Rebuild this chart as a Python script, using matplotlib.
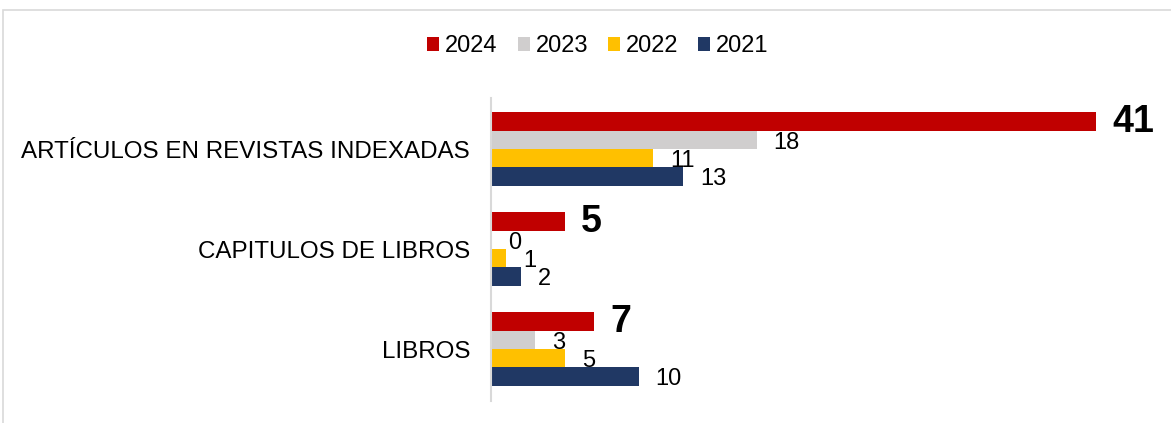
import matplotlib.pyplot as plt
from matplotlib.patches import Rectangle
import numpy as np

plt.rcParams['font.family'] = ['Liberation Sans', 'DejaVu Sans']

categorias = ['LIBROS', 'CAPITULOS DE LIBROS', 'ARTÍCULOS EN REVISTAS INDEXADAS']
anios = ['2024', '2023', '2022', '2021']
v2024 = [7, 5, 41]
v2023 = [3, 0, 18]
v2022 = [5, 1, 11]
v2021 = [10, 2, 13]
colores = ['#C00000', '#D0CECE', '#FFC000', '#203864']

W, H = 1171, 423
fig = plt.figure(figsize=(W / 100, H / 100), dpi=100)
ax = fig.add_axes([491 / W, 1 - 401 / H, 664 / W, 303 / H])

# borde gris del grafico
fig.patches.append(Rectangle((3 / W, -0.2), 1.2, 1.2 - 10 / H,
                             transform=fig.transFigure, fill=False,
                             edgecolor='#d9d9d9', lw=1.2))

y = np.arange(len(categorias))
h = 0.183
series = [v2024, v2023, v2022, v2021]
for i, (vals, col, lab) in enumerate(zip(series, colores, anios)):
    pos = y + (1.5 - i) * h
    ax.barh(pos, vals, height=h, color=col, label=lab)
    for p, v in zip(pos, vals):
        if i == 0:
            ax.annotate(str(v), (v, p), xytext=(16, 0), textcoords='offset pixels',
                        va='center', ha='left', fontsize=27, fontweight='bold')
        else:
            ax.annotate(str(v), (v, p), xytext=(17, -3), textcoords='offset pixels',
                        va='center', ha='left', fontsize=17)

ax.set_xlim(0, 45)
ax.set_ylim(-0.52, 2.51)
ax.set_yticks(y)
ax.set_yticklabels(categorias, fontsize=17.4)
ax.tick_params(axis='y', length=0, pad=15)
ax.set_xticks([])
for s in ['top', 'right', 'bottom']:
    ax.spines[s].set_visible(False)
ax.spines['left'].set_color('#d9d9d9')
ax.spines['left'].set_linewidth(1.5)

fig.legend(loc='center', bbox_to_anchor=(598 / W, 1 - 46 / H), ncol=4, frameon=False,
           fontsize=17, handlelength=0.5, handleheight=0.55, handletextpad=0.25,
           columnspacing=0.85)

fig.savefig('out.png', dpi=100)
